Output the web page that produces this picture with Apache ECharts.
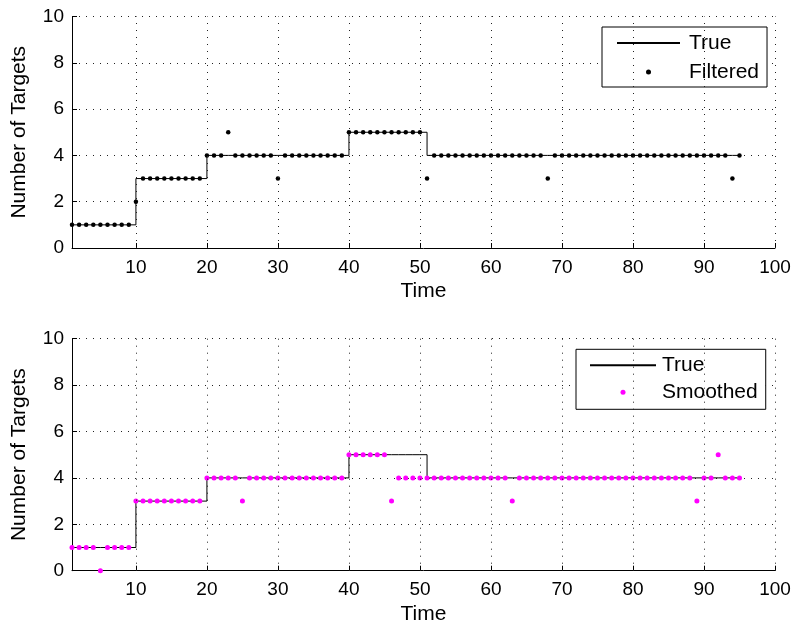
<!DOCTYPE html>
<html>
<head>
<meta charset="utf-8">
<script src="https://cdn.jsdelivr.net/npm/echarts@6/dist/echarts.min.js"></script>
<style>
html,body{margin:0;padding:0;background:#fff;}
#chart{width:796px;height:628px;}
</style>
</head>
<body>
<div id="chart"></div>
<script>
// ---- data ----
var time = [1,2,3,4,5,6,7,8,9,10,11,12,13,14,15,16,17,18,19,20,
  21,22,23,24,25,26,27,28,29,30,31,32,33,34,35,36,37,38,39,40,
  41,42,43,44,45,46,47,48,49,50,51,52,53,54,55,56,57,58,59,60,
  61,62,63,64,65,66,67,68,69,70,71,72,73,74,75,76,77,78,79,80,
  81,82,83,84,85,86,87,88,89,90,91,92,93,94,95];

var trueCount = [1,1,1,1,1,1,1,1,1,
  3,3,3,3,3,3,3,3,3,3,
  4,4,4,4,4,4,4,4,4,4,4,4,4,4,4,4,4,4,4,4,
  5,5,5,5,5,5,5,5,5,5,5,
  4,4,4,4,4,4,4,4,4,4,4,4,4,4,4,4,4,4,4,4,4,4,4,4,4,
  4,4,4,4,4,4,4,4,4,4,4,4,4,4,4,4,4,4,4,4,4,4,4,4,4];

var filtered = [1,1,1,1,1,1,1,1,1,
  2,
  3,3,3,3,3,3,3,3,3,
  4,4,4,
  5,
  4,4,4,4,4,4,
  3,
  4,4,4,4,4,4,4,4,4,
  5,5,5,5,5,5,5,5,5,5,5,
  3,
  4,4,4,4,4,4,4,4,4,4,4,4,4,4,4,4,
  3,
  4,4,4,4,4,4,4,4,4,4,4,4,4,4,4,4,4,4,4,4,4,4,4,4,4,
  3,
  4];

var smoothed = [1,1,1,1,
  0,
  1,1,1,1,
  3,3,3,3,3,3,3,3,3,3,
  4,4,4,4,4,
  3,
  4,4,4,4,4,4,4,4,4,4,4,4,4,4,
  5,5,5,5,5,5,
  3,
  4,4,4,4,4,4,4,4,4,4,4,4,4,4,4,4,
  3,
  4,4,4,4,4,4,4,4,4,4,4,4,4,4,4,4,4,4,4,4,4,4,4,4,4,
  3,
  4,4,
  5,
  4,4,4];

var xTicks = [10,20,30,40,50,60,70,80,90,100];

function pairs(xs, ys){ return xs.map(function(x,i){ return [x, ys[i]]; }); }

var FONT = '"Liberation Sans", Arial, Helvetica, sans-serif';
var gridLine = { color: '#222', width: 1, type: [1, 6] };

function xAx(gi){
  return {
    type: 'value', gridIndex: gi, min: 1, max: 100,
    name: 'Time', nameLocation: 'middle', nameGap: 33,
    nameTextStyle: { fontFamily: FONT, fontSize: 21, color: '#000' },
    axisLine: { show: true, onZero: false, lineStyle: { color: '#000', width: 1 } },
    axisTick: { show: true, inside: true, length: 5, customValues: xTicks, lineStyle: { color: '#000' } },
    axisLabel: { customValues: xTicks, fontFamily: FONT, fontSize: 19, color: '#000', margin: 10 },
    splitLine: { show: false }
  };
}
function yAx(gi){
  return {
    type: 'value', gridIndex: gi, min: 0, max: 10, interval: 2,
    name: 'Number of Targets', nameLocation: 'middle', nameGap: 42,
    nameTextStyle: { fontFamily: FONT, fontSize: 21, color: '#000' },
    axisLine: { show: true, lineStyle: { color: '#000', width: 1 } },
    axisTick: { show: true, inside: true, length: 5, lineStyle: { color: '#000' } },
    axisLabel: { fontFamily: FONT, fontSize: 19, color: '#000', margin: 8 },
    splitLine: { show: true, lineStyle: gridLine }
  };
}
function vGrid(){
  return {
    silent: true, symbol: 'none', animation: false,
    label: { show: false },
    lineStyle: gridLine,
    data: xTicks.map(function(v){ return { xAxis: v }; })
  };
}
var noSym = { color: 'rgba(0,0,0,0)', opacity: 0, borderWidth: 0 };

var chart = echarts.init(document.getElementById('chart'), null, { renderer: 'canvas' });
chart.setOption({
  animation: false,
  backgroundColor: '#fff',
  grid: [
    { left: 72, right: 21, top: 16.5, height: 231.5 },
    { left: 72, right: 21, top: 338.7, height: 232 }
  ],
  xAxis: [xAx(0), xAx(1)],
  yAxis: [yAx(0), yAx(1)],
  legend: [
    {
      orient: 'vertical', left: 602, top: 27,
      data: [{ name: 'True', itemStyle: noSym }, 'Filtered'],
      itemWidth: 63, itemHeight: 5, itemGap: 5,
      padding: [4, 8, 3, 14],
      borderColor: '#000', borderWidth: 1, backgroundColor: '#fff',
      selectedMode: false,
      textStyle: { fontFamily: FONT, fontSize: 21, color: '#000', lineHeight: 24, padding: [0,0,0,4] }
    },
    {
      orient: 'vertical', left: 576, top: 349.3,
      data: [{ name: 'True', itemStyle: noSym }, 'Smoothed'],
      itemWidth: 66, itemHeight: 5, itemGap: 5,
      padding: [5, 8, 6, 13],
      borderColor: '#000', borderWidth: 1, backgroundColor: '#fff',
      selectedMode: false,
      textStyle: { fontFamily: FONT, fontSize: 21, color: '#000', lineHeight: 22, padding: [0,0,0,1] }
    }
  ],
  series: [
    {
      name: 'True', type: 'line', xAxisIndex: 0, yAxisIndex: 0,
      data: pairs(time, trueCount), step: 'end', showSymbol: false, symbol: 'none',
      lineStyle: { color: '#000', width: 1 }, itemStyle: { color: '#000' },
      markLine: vGrid(), z: 3
    },
    {
      name: 'Filtered', type: 'scatter', xAxisIndex: 0, yAxisIndex: 0,
      data: pairs(time, filtered), symbol: 'circle', symbolSize: 4.5,
      itemStyle: { color: '#000', opacity: 1 }, z: 4
    },
    {
      name: 'True', type: 'line', xAxisIndex: 1, yAxisIndex: 1,
      data: pairs(time, trueCount), step: 'end', showSymbol: false, symbol: 'none',
      lineStyle: { color: '#000', width: 1 }, itemStyle: { color: '#000' },
      markLine: vGrid(), z: 3
    },
    {
      name: 'Smoothed', type: 'scatter', xAxisIndex: 1, yAxisIndex: 1,
      data: pairs(time, smoothed), symbol: 'circle', symbolSize: 5,
      itemStyle: { color: '#ff00ff', opacity: 1 }, z: 4
    }
  ]
});
</script>
</body>
</html>
